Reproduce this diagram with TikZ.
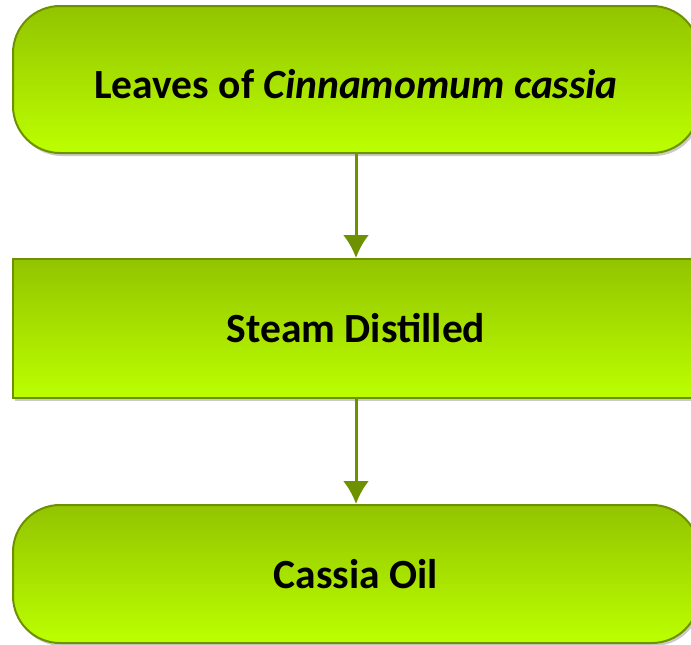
\documentclass[tikz,border=0pt]{standalone}
\usepackage{xcolor}
\usepackage{fontspec}
\usepackage{tikz}
\usetikzlibrary{arrows.meta,shadows}
\setmainfont{Carlito}

\definecolor{leafdark}{RGB}{146,196,0}
\definecolor{leaflight}{RGB}{188,255,0}
\definecolor{leafedge}{RGB}{110,145,0}

\begin{document}
\begin{tikzpicture}[x=1pt,y=-1pt,
  greenbox/.style={draw=leafedge, line width=2pt, top color=leafdark, bottom color=leaflight,
    minimum width=686pt, minimum height=147pt, inner sep=0pt,
    drop shadow={shadow xshift=2pt, shadow yshift=-3pt, opacity=0.35, fill=black!60},
    font=\fontsize{41.5}{49}\selectfont\bfseries},
  roundbox/.style={greenbox, rounded corners=47pt},
  flowarrow/.style={arrows = {-Latex[width=26pt, length=23pt]}, leafedge, line width=3pt}]
  \useasboundingbox (0,0) rectangle (691,645);

  \node [roundbox, text height=37pt, text depth=0pt] (leaves) at (356,79.5) {Leaves of \textit{Cinnamomum cassia}};
  \node [greenbox, minimum height=139pt] (steam) at (356,328.5) {Steam Distilled};
  \node [roundbox, minimum height=138pt] (oil) at (356,574) {Cassia Oil};

  \draw [flowarrow] (leaves) -- (steam);
  \draw [flowarrow] (steam) -- (oil);
\end{tikzpicture}
\end{document}
